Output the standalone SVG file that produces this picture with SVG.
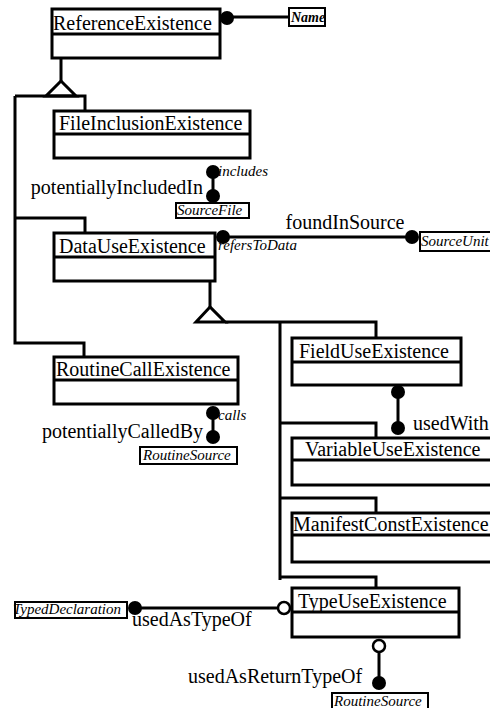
<svg xmlns="http://www.w3.org/2000/svg" width="490" height="708" viewBox="0 0 490 708">
<style>
.box{fill:#fff;stroke:#000;stroke-width:3}
.div{stroke:#000;stroke-width:3}
.lbl{fill:#fff;stroke:#000;stroke-width:2}
.t{font-family:"Liberation Serif","Times New Roman",serif;font-size:20px;fill:#000}
.it{font-family:"Liberation Serif","Times New Roman",serif;font-size:15px;font-style:italic;fill:#000}
.ln{fill:none;stroke:#000;stroke-width:3}
.dot{fill:#000}
.odot{fill:#fff;stroke:#000;stroke-width:2.5}
</style>
<rect width="490" height="708" fill="#fff"/>
<g id="connectors">
  <!-- inheritance tree left -->
  <path class="ln" d="M61 58 V81"/>
  <polygon points="61,81 46,96 76,96" fill="#fff" stroke="#000" stroke-width="3"/>
  <path class="ln" d="M15 96 H85 V112"/>
  <path class="ln" d="M15 96 V343 H84 V357"/>
  <path class="ln" d="M15 218 H85 V233"/>
  <!-- inheritance tree right -->
  <path class="ln" d="M210 281 V307"/>
  <polygon points="210,307 196,322 225,322" fill="#fff" stroke="#000" stroke-width="3"/>
  <path class="ln" d="M225 322 H376 V338"/>
  <path class="ln" d="M280 322 V580"/>
  <path class="ln" d="M280 423 H376 V438"/>
  <path class="ln" d="M280 498 H376 V513"/>
  <path class="ln" d="M280 577 H376 V588"/>
  <!-- associations -->
  <path class="ln" d="M227 17 H289"/>
  <circle class="dot" cx="227" cy="18" r="7"/>
  <path class="ln" d="M213 172 V196"/>
  <circle class="dot" cx="213" cy="172" r="7"/>
  <circle class="dot" cx="213" cy="196" r="7"/>
  <path class="ln" d="M223 237 H412"/>
  <circle class="dot" cx="223" cy="237" r="7"/>
  <circle class="dot" cx="412" cy="237" r="7"/>
  <path class="ln" d="M398 392 V428"/>
  <circle class="dot" cx="398" cy="392" r="7"/>
  <circle class="dot" cx="398" cy="428" r="7"/>
  <path class="ln" d="M213 413 V437"/>
  <circle class="dot" cx="213" cy="413" r="7"/>
  <circle class="dot" cx="213" cy="437" r="7"/>
  <path class="ln" d="M135 608 H278"/>
  <circle class="dot" cx="135" cy="608" r="7"/>
  <circle class="odot" cx="284" cy="608" r="6"/>
  <path class="ln" d="M379 652 V683"/>
  <circle class="odot" cx="379" cy="646" r="6"/>
  <circle class="dot" cx="379" cy="683" r="7"/>
  <!-- association labels -->
  <text class="it" x="218" y="176">includes</text>
  <text class="t" x="203" y="194" text-anchor="end">potentiallyIncludedIn</text>
  <text class="t" x="345" y="229" text-anchor="middle">foundInSource</text>
  <text class="it" x="218" y="250">refersToData</text>
  <text class="t" x="413" y="430">usedWith</text>
  <text class="it" x="218" y="420">calls</text>
  <text class="t" x="203" y="438" text-anchor="end">potentiallyCalledBy</text>
  <text class="t" x="132" y="626">usedAsTypeOf</text>
  <text class="t" x="188" y="683">usedAsReturnTypeOf</text>
</g>
<g id="ReferenceExistence">
  <rect class="box" x="52" y="9" width="168" height="49"/>
  <line class="div" x1="52" y1="34" x2="220" y2="34"/>
  <text class="t" x="53" y="30">ReferenceExistence</text>
</g>
<g id="Name">
  <rect class="lbl" x="289" y="8" width="36" height="18"/>
  <text class="it" x="291" y="22" style="font-size:14px;font-weight:bold">Name</text>
</g>
<g id="FileInclusionExistence">
  <rect class="box" x="54" y="111" width="196" height="47"/>
  <line class="div" x1="54" y1="134" x2="250" y2="134"/>
  <text class="t" x="59" y="130">FileInclusionExistence</text>
</g>
<g id="SourceFile">
  <rect class="lbl" x="176" y="203" width="73" height="15"/>
  <text class="it" x="177" y="215">SourceFile</text>
</g>
<g id="DataUseExistence">
  <rect class="box" x="54" y="233" width="161" height="48"/>
  <line class="div" x1="54" y1="257" x2="215" y2="257"/>
  <text class="t" x="59" y="253">DataUseExistence</text>
</g>
<g id="SourceUnit">
  <rect class="lbl" x="420" y="232" width="80" height="19"/>
  <text class="it" x="421" y="246">SourceUnit</text>
</g>
<g id="RoutineCallExistence">
  <rect class="box" x="54" y="357" width="184" height="47"/>
  <line class="div" x1="54" y1="380" x2="238" y2="380"/>
  <text class="t" x="56" y="376">RoutineCallExistence</text>
</g>
<g id="RoutineSource1">
  <rect class="lbl" x="140" y="447" width="97" height="17"/>
  <text class="it" x="143" y="460">RoutineSource</text>
</g>
<g id="FieldUseExistence">
  <rect class="box" x="292" y="338" width="169" height="47"/>
  <line class="div" x1="292" y1="362" x2="461" y2="362"/>
  <text class="t" x="299" y="358">FieldUseExistence</text>
</g>
<g id="VariableUseExistence">
  <rect class="box" x="292" y="438" width="210" height="47"/>
  <line class="div" x1="292" y1="460" x2="502" y2="460"/>
  <text class="t" x="305" y="456">VariableUseExistence</text>
</g>
<g id="ManifestConstExistence">
  <rect class="box" x="292" y="513" width="210" height="49"/>
  <line class="div" x1="292" y1="535" x2="502" y2="535"/>
  <text class="t" x="293" y="531">ManifestConstExistence</text>
</g>
<g id="TypeUseExistence">
  <rect class="box" x="292" y="588" width="167" height="49"/>
  <line class="div" x1="292" y1="612" x2="459" y2="612"/>
  <text class="t" x="298" y="608">TypeUseExistence</text>
</g>
<g id="TypedDeclaration">
  <rect class="lbl" x="15" y="602" width="112" height="16"/>
  <text class="it" x="13" y="614">TypedDeclaration</text>
</g>
<g id="RoutineSource2">
  <rect class="lbl" x="332" y="693" width="96" height="17"/>
  <text class="it" x="334" y="706">RoutineSource</text>
</g>
</svg>
